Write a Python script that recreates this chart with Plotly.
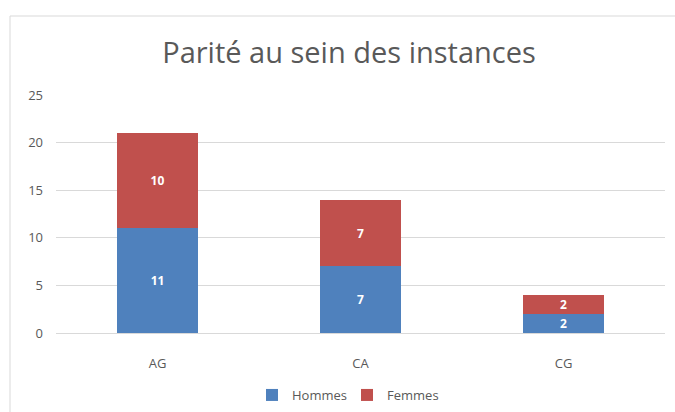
import plotly.graph_objects as go

categories = ["AG", "CA", "CG"]
hommes = [11, 7, 2]
femmes = [10, 7, 2]
y_ticks = [0, 5, 10, 15, 20, 25]

BLUE = "#4F81BD"
RED = "#C0504D"
FONT = "Open Sans, sans-serif"

fig = go.Figure()
for name, vals, col in [("Hommes", hommes, BLUE), ("Femmes", femmes, RED)]:
    fig.add_trace(go.Bar(
        x=categories, y=vals, name=name, marker_color=col,
        marker_line_width=0,
        text=[str(v) for v in vals], textposition="inside", insidetextanchor="middle",
        textangle=0, constraintext="none",
        textfont=dict(color="white", size=12, family=FONT, weight="bold"),
    ))

L, R, T, B = 56, 10, 95, 79
W, H = 675, 412
pw = W - L - R
ph = H - T - B

def px_x(x):
    return (x - L) / pw

def px_y(y):
    return (H - B - y) / ph

fig.update_layout(
    width=W, height=H,
    barmode="stack", bargap=0.6,
    margin=dict(l=L, r=R, t=T, b=B, autoexpand=False),
    paper_bgcolor="white", plot_bgcolor="white",
    font=dict(family=FONT, color="#595959", size=12),
    title=dict(text="Parité au sein des instances", x=px_x(349), xref="paper", xanchor="center",
               y=1 - 53 / H, yanchor="middle",
               font=dict(size=29, color="#595959", family=FONT)),
    showlegend=True,
    legend=dict(orientation="h", x=px_x(347), xanchor="center", y=px_y(395), yanchor="middle",
                font=dict(size=13, color="#595959", family=FONT), traceorder="normal",
                itemwidth=30, entrywidth=50, entrywidthmode="pixels"),
    xaxis=dict(showgrid=False, showline=True, linecolor="#D9D9D9", linewidth=1,
               automargin=False,
               ticks="outside", ticklen=18, tickcolor="rgba(0,0,0,0)",
               tickfont=dict(size=13, color="#595959")),
    yaxis=dict(range=[0, 25], tickvals=y_ticks, showgrid=True, gridcolor="#D9D9D9",
               automargin=False,
               zeroline=False, showline=False, ticklabelstandoff=12,
               tickfont=dict(size=13, color="#595959")),
    shapes=[dict(type="rect", xref="paper", yref="paper",
                 x0=px_x(10), x1=px_x(W + 20), y0=px_y(H + 20), y1=px_y(16),
                 line=dict(color="#D9D9D9", width=1), fillcolor="rgba(0,0,0,0)",
                 layer="below")],
)

fig.write_html("out.html", config={"displayModeBar": False},
               post_script="document.body.style.margin='0';")
